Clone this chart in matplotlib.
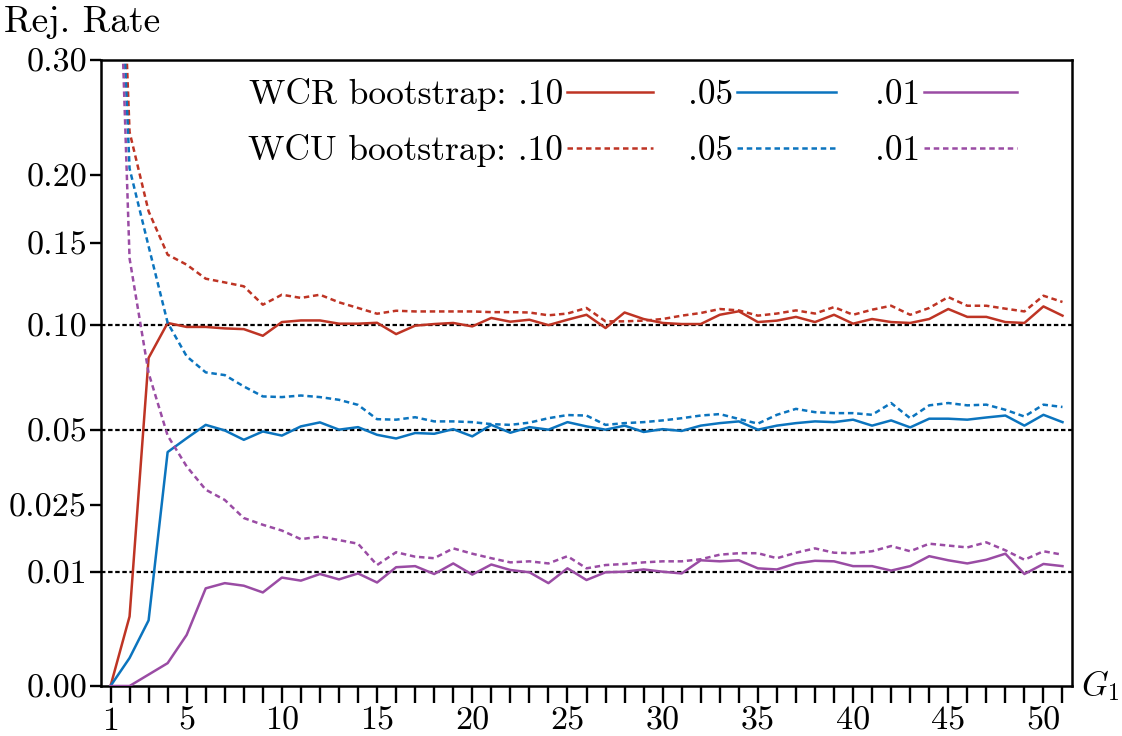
import numpy as np
import matplotlib
matplotlib.use("Agg")
import matplotlib.pyplot as plt

plt.rcParams['font.family'] = ['cmr10', 'DejaVu Serif']
plt.rcParams['mathtext.fontset'] = 'cm'
plt.rcParams['axes.formatter.use_mathtext'] = True

# ---------------- data ----------------
G1 = list(range(1, 52))

wcr_10 = [0.0, 0.0037, 0.0824, 0.1009, 0.0987, 0.0987, 0.0979, 0.0975, 0.0939, 0.1014,
          0.1023, 0.1023, 0.1005, 0.1005, 0.1010, 0.0948, 0.0994, 0.1003, 0.1009, 0.0990,
          0.1037, 0.1016, 0.1027, 0.0997, 0.1027, 0.1055, 0.0981, 0.1068, 0.1031, 0.1009,
          0.1003, 0.1003, 0.1055, 0.1075, 0.1014, 0.1022, 0.1043, 0.1014, 0.1055, 0.1005,
          0.1031, 0.1014, 0.1009, 0.1031, 0.1088, 0.1043, 0.1043, 0.1014, 0.1009, 0.1103,
          0.1050]
wcr_05 = [0.0, 0.0006, 0.0033, 0.0419, 0.0470, 0.0522, 0.0500, 0.0464, 0.0496, 0.0480,
          0.0516, 0.0532, 0.0503, 0.0513, 0.0483, 0.0469, 0.0490, 0.0487, 0.0505, 0.0477,
          0.0522, 0.0491, 0.0513, 0.0503, 0.0533, 0.0516, 0.0503, 0.0519, 0.0494, 0.0505,
          0.0498, 0.0519, 0.0529, 0.0536, 0.0503, 0.0519, 0.0529, 0.0536, 0.0533, 0.0543,
          0.0519, 0.0540, 0.0512, 0.0547, 0.0547, 0.0543, 0.0552, 0.0560, 0.0519, 0.0563,
          0.0533]
wcr_01 = [0.0, 0.0, 0.0001, 0.0004, 0.0020, 0.0073, 0.0081, 0.0077, 0.0067, 0.0090,
          0.0085, 0.0096, 0.0087, 0.0097, 0.0082, 0.0108, 0.0110, 0.0096, 0.0115, 0.0095,
          0.0113, 0.0103, 0.0099, 0.0081, 0.0106, 0.0086, 0.0099, 0.0100, 0.0104, 0.0100,
          0.0097, 0.0121, 0.0119, 0.0121, 0.0106, 0.0104, 0.0115, 0.0120, 0.0119, 0.0110,
          0.0110, 0.0102, 0.0110, 0.0129, 0.0121, 0.0115, 0.0122, 0.0134, 0.0096, 0.0114,
          0.0110]
wcu_10 = [0.85, 0.235, 0.1725, 0.1424, 0.1359, 0.1270, 0.1247, 0.1223, 0.1113, 0.1172,
          0.1153, 0.1172, 0.1127, 0.1094, 0.1061, 0.1078, 0.1074, 0.1074, 0.1074, 0.1074,
          0.1070, 0.1070, 0.1068, 0.1052, 0.1062, 0.1094, 0.1018, 0.1018, 0.1022, 0.1031,
          0.1050, 0.1065, 0.1088, 0.1080, 0.1050, 0.1062, 0.1080, 0.1062, 0.1099, 0.1055,
          0.1084, 0.1107, 0.1055, 0.1094, 0.1158, 0.1107, 0.1107, 0.1090, 0.1074, 0.1166,
          0.1129]
wcu_05 = [0.72, 0.205, 0.148, 0.101, 0.0832, 0.0753, 0.0740, 0.0687, 0.0642, 0.0639,
          0.0646, 0.0639, 0.0627, 0.0605, 0.0545, 0.0543, 0.0553, 0.0536, 0.0536, 0.0533,
          0.0525, 0.0522, 0.0531, 0.0549, 0.0562, 0.0560, 0.0522, 0.0529, 0.0533, 0.0540,
          0.0549, 0.0560, 0.0566, 0.0546, 0.0527, 0.0563, 0.0588, 0.0574, 0.0570, 0.0570,
          0.0563, 0.0613, 0.0549, 0.0603, 0.0613, 0.0603, 0.0606, 0.0584, 0.0556, 0.0606,
          0.0596]
wcu_01 = [0.78, 0.140, 0.075, 0.048, 0.0369, 0.0295, 0.0265, 0.0216, 0.0199, 0.0185,
          0.0165, 0.0171, 0.0163, 0.0155, 0.0112, 0.0137, 0.0128, 0.0125, 0.0145, 0.0134,
          0.0125, 0.0117, 0.0119, 0.0115, 0.0129, 0.0106, 0.0112, 0.0114, 0.0117, 0.0119,
          0.0119, 0.0123, 0.0132, 0.0135, 0.0135, 0.0125, 0.0136, 0.0145, 0.0136, 0.0135,
          0.0139, 0.0150, 0.0139, 0.0155, 0.0151, 0.0147, 0.0158, 0.0141, 0.0122, 0.0139,
          0.0132]

nominal_levels = [0.01, 0.05, 0.10]
ytick_vals = [0.0, 0.01, 0.025, 0.05, 0.10, 0.15, 0.20, 0.30]
ytick_labels = ['0.00', '0.01', '0.025', '0.05', '0.10', '0.15', '0.20', '0.30']
xtick_labeled = [1, 5, 10, 15, 20, 25, 30, 35, 40, 45, 50]
level_labels = ['.10', '.05', '.01']
row_labels = ['WCR bootstrap: ', 'WCU bootstrap: ']

RED = '#BE3424'
BLUE = '#0B74BE'
PURPLE = '#9A4CA4'
colors = [RED, BLUE, PURPLE]

FS_TICK = 24.5
FS_LEG = 25.5
FS_LAB = 27
LW = 1.8
W, H = 1122, 736
fig = plt.figure(figsize=(W / 100, H / 100), dpi=100)
L, R, B, T = 101, 1072, 686, 60
ax = fig.add_axes([L / W, 1 - B / H, (R - L) / W, (B - T) / H])

ax.set_yscale('function', functions=(lambda v: np.sqrt(np.clip(v, 0, None)), np.square))
ax.set_ylim(0, 0.30)
ax.set_xlim(0.5, 51.5)

for lev in nominal_levels:
    ax.axhline(lev, color='black', lw=1.6, dashes=(2.0, 1.2), zorder=1)

dash = (2.2, 1.5)
series = [(wcr_10, RED, '-'), (wcr_05, BLUE, '-'), (wcr_01, PURPLE, '-'),
          (wcu_10, RED, '--'), (wcu_05, BLUE, '--'), (wcu_01, PURPLE, '--')]
for vals, c, ls in series:
    if ls == '-':
        ax.plot(G1, vals, color=c, lw=LW, zorder=3)
    else:
        ax.plot(G1, vals, color=c, lw=LW, dashes=dash, zorder=3)

ax.set_yticks(ytick_vals)
ax.set_yticklabels(ytick_labels)
ax.set_xticks(G1)
ax.set_xticklabels([str(g) if g in xtick_labeled else '' for g in G1])
ax.tick_params(axis='x', direction='out', length=12, width=1.7, pad=3, labelsize=FS_TICK)
ax.tick_params(axis='y', direction='out', length=8, width=1.7, pad=2, labelsize=FS_TICK)
ax.minorticks_off()
for s in ax.spines.values():
    s.set_linewidth(1.8)

# axis labels
fig.text(4 / W, 1 - 32 / H, 'Rej. Rate', fontsize=FS_LAB, ha='left', va='baseline')
ax.text(1.009, 0.0, r'$G_1$', transform=ax.transAxes, fontsize=FS_TICK, ha='left', va='center')

# legend (manual)
def axx(px):
    return (px - L) / (R - L)

def axy(py):
    return (B - py) / (B - T)

text_ends = [563, 733, 920]
line_spans = [(567, 653), (737, 836), (924, 1017)]
rows_line_y = [92, 148]
rows_base_y = [104, 160]
for r in range(2):
    for c in range(3):
        lbl = (row_labels[r] + level_labels[c]) if c == 0 else level_labels[c]
        ax.text(axx(text_ends[c]), axy(rows_base_y[r]), lbl, transform=ax.transAxes,
                fontsize=FS_LEG, ha='right', va='baseline')
        x0, x1 = line_spans[c]
        kw = dict(color=colors[c], lw=LW, transform=ax.transAxes, clip_on=False)
        if r == 1:
            kw['dashes'] = dash
        ax.plot([axx(x0), axx(x1)], [axy(rows_line_y[r])] * 2, **kw)

fig.savefig('out.png', dpi=100)
